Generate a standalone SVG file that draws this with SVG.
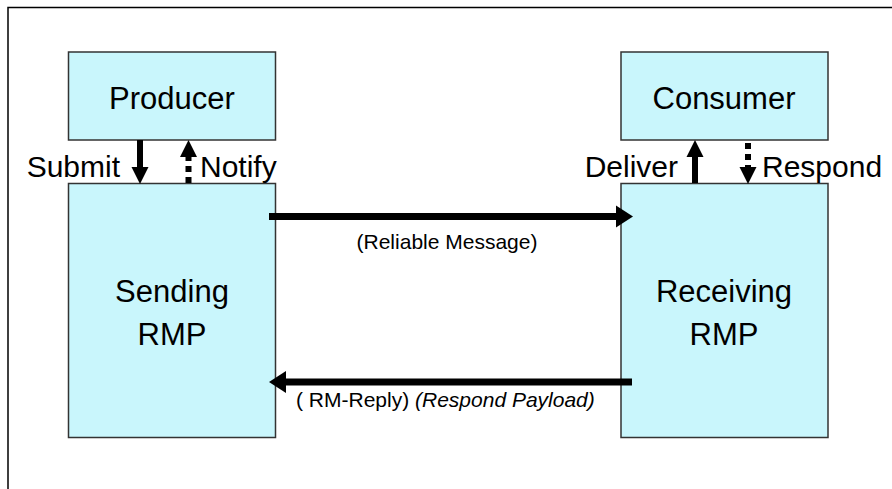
<svg xmlns="http://www.w3.org/2000/svg" width="892" height="489" viewBox="0 0 892 489">
  <style>
    .box { fill: #C9F6FC; stroke: #333; stroke-width: 1.5; }
    .t { font-family: "Liberation Sans", Arial, sans-serif; fill: #000; }
    .big { font-size: 31px; text-anchor: middle; }
    .lbl { font-size: 30px; }
    .small { font-size: 21px; }
    .solid { stroke: #000; stroke-width: 6; fill: none; }
    .dash { stroke: #000; stroke-width: 6; fill: none; stroke-dasharray: 6 5; }
    .wide { stroke: #000; stroke-width: 7; fill: none; }
  </style>
  <defs>
    <marker id="headS" markerUnits="userSpaceOnUse" markerWidth="18" markerHeight="18" refX="0" refY="8.5" orient="auto" overflow="visible">
      <path d="M0,0 L17,8.5 L0,17 z" fill="#000"/>
    </marker>
    <marker id="headL" markerUnits="userSpaceOnUse" markerWidth="18" markerHeight="23" refX="0" refY="11" orient="auto" overflow="visible">
      <path d="M0,0 L17,11 L0,22 z" fill="#000"/>
    </marker>
  </defs>

  <rect x="8" y="7.5" width="900" height="500" fill="#fff" stroke="#000" stroke-width="1.5"/>

  <g id="producer">
    <rect class="box" x="68.5" y="52" width="207" height="88"/>
    <text class="t big" x="172" y="109">Producer</text>
  </g>
  <g id="consumer">
    <rect class="box" x="621" y="52" width="207" height="88"/>
    <text class="t big" x="724" y="109">Consumer</text>
  </g>
  <g id="sending-rmp">
    <rect class="box" x="68.5" y="183.5" width="207" height="254"/>
    <text class="t big" x="172" y="302">Sending</text>
    <text class="t big" x="172" y="345">RMP</text>
  </g>
  <g id="receiving-rmp">
    <rect class="box" x="621" y="183.5" width="207" height="254"/>
    <text class="t big" x="724" y="302">Receiving</text>
    <text class="t big" x="724" y="345">RMP</text>
  </g>

  <g id="connectors">
    <line class="solid" x1="140" y1="140" x2="140" y2="167" marker-end="url(#headS)"/>
    <line class="dash" x1="188.5" y1="183" x2="188.5" y2="157" marker-end="url(#headS)"/>
    <line class="solid" x1="695" y1="183" x2="695" y2="157" marker-end="url(#headS)"/>
    <line class="dash" x1="748" y1="143" x2="748" y2="167" marker-end="url(#headS)"/>
    <line class="wide" x1="269" y1="216.5" x2="616" y2="216.5" marker-end="url(#headL)"/>
    <line class="wide" x1="632" y1="382" x2="286" y2="382" marker-end="url(#headL)"/>
  </g>

  <g id="labels">
    <text class="t lbl" x="120" y="177" text-anchor="end">Submit</text>
    <text class="t lbl" x="200" y="177">Notify</text>
    <text class="t lbl" x="678" y="177" text-anchor="end">Deliver</text>
    <text class="t lbl" x="762" y="177">Respond</text>
    <text class="t small" x="447" y="249" text-anchor="middle">(Reliable Message)</text>
    <text class="t small" x="296" y="407">( RM-Reply) <tspan font-style="italic">(Respond Payload)</tspan></text>
  </g>
</svg>
